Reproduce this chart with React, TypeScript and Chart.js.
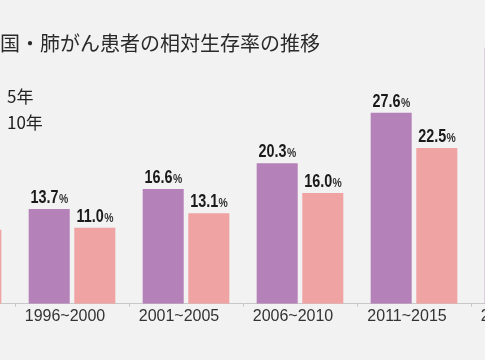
import React, { useEffect, useRef } from "react";
import { Chart, registerables } from "chart.js";

Chart.register(...registerables);

const categories = ["1991~1995", "1996~2000", "2001~2005", "2006~2010", "2011~2015", "2016~2020"];
const fiveYear = [11.8, 13.7, 16.6, 20.3, 27.6, 37.0];
const tenYear = [10.7, 11.0, 13.1, 16.0, 22.5, 30.0];
const seriesNames = ["5年", "10年"];
const titleText = "国・肺がん患者の相対生存率の推移";

const SHIFT = 109; // canvas offset so the picture is cropped like the reference
const NARROW = 0.8;

const overlayPlugin = {
  id: "overlay",
  afterDatasetsDraw(chart: any) {
    const ctx = chart.ctx;
    ctx.save();
    const numFont = "bold 18px 'Liberation Sans', Arial, sans-serif";
    const pctFont = "bold 13px 'Liberation Sans', Arial, sans-serif";
    chart.data.datasets.forEach((ds: any, di: number) => {
      const meta = chart.getDatasetMeta(di);
      meta.data.forEach((el: any, i: number) => {
        const v = ds.data[i];
        const num = v.toFixed(1);
        ctx.font = numFont;
        const w1 = ctx.measureText(num).width;
        ctx.font = pctFont;
        const w2 = ctx.measureText("%").width;
        const total = (w1 + w2) * NARROW;
        const start = el.x - total / 2;
        const by = el.y - 6;
        ctx.save();
        ctx.translate(start, by);
        ctx.scale(NARROW, 1);
        ctx.fillStyle = "#1a1a1a";
        ctx.textAlign = "left";
        ctx.textBaseline = "alphabetic";
        ctx.font = numFont;
        ctx.fillText(num, 0, 0);
        ctx.font = pctFont;
        ctx.fillStyle = "#333";
        ctx.fillText("%", w1 + 0.5, 0);
        ctx.restore();
      });
    });
    ctx.fillStyle = "#2a2a2a";
    ctx.textAlign = "left";
    ctx.textBaseline = "middle";
    ctx.font = "20px 'Noto Sans CJK JP', sans-serif";
    ctx.fillText(titleText, SHIFT + 0, 43);
    ctx.font = "17px 'Noto Sans CJK JP', sans-serif";
    ctx.fillStyle = "#222";
    ctx.fillText(seriesNames[0], SHIFT + 7, 97);
    ctx.fillText(seriesNames[1], SHIFT + 7, 123);
    ctx.restore();
  },
};

export default function App() {
  const ref = useRef<HTMLCanvasElement | null>(null);
  useEffect(() => {
    document.body.style.margin = "0";
    document.body.style.background = "#f2f2f2";
    const chart = new Chart(ref.current as HTMLCanvasElement, {
      type: "bar",
      data: {
        labels: categories,
        datasets: [
          {
            label: seriesNames[0],
            data: fiveYear,
            backgroundColor: "#b581b9",
            categoryPercentage: 0.8,
            barPercentage: 0.9,
          },
          {
            label: seriesNames[1],
            data: tenYear,
            backgroundColor: "#f0a3a3",
            categoryPercentage: 0.8,
            barPercentage: 0.9,
          },
        ],
      },
      options: {
        responsive: false,
        animation: false,
        devicePixelRatio: 1,
        layout: { padding: { left: 10, right: 6, top: 27, bottom: 34 } },
        plugins: { legend: { display: false }, title: { display: false }, tooltip: { enabled: false } },
        scales: {
          x: {
            grid: { display: true, drawOnChartArea: false, drawTicks: true, tickLength: 3, color: "#c8c8c8" },
            border: { display: true, color: "#c8c8c8" },
            ticks: {
              padding: 0,
              labelOffset: -7,
              color: "#333",
              font: { family: "'Liberation Sans', Arial, sans-serif", size: 16 },
              maxRotation: 0,
              autoSkip: false,
            },
          },
          y: { display: false, min: 0, max: 40 },
        },
      },
      plugins: [overlayPlugin],
    } as any);
    return () => chart.destroy();
  }, []);
  return (
    <div style={{ position: "fixed", left: 0, top: 0, width: 485, height: 360, overflow: "hidden", background: "#f2f2f2" }}>
      <canvas ref={ref} width={700} height={360} style={{ position: "absolute", left: -SHIFT, top: 0, width: 700, height: 360 }} />
    </div>
  );
}
